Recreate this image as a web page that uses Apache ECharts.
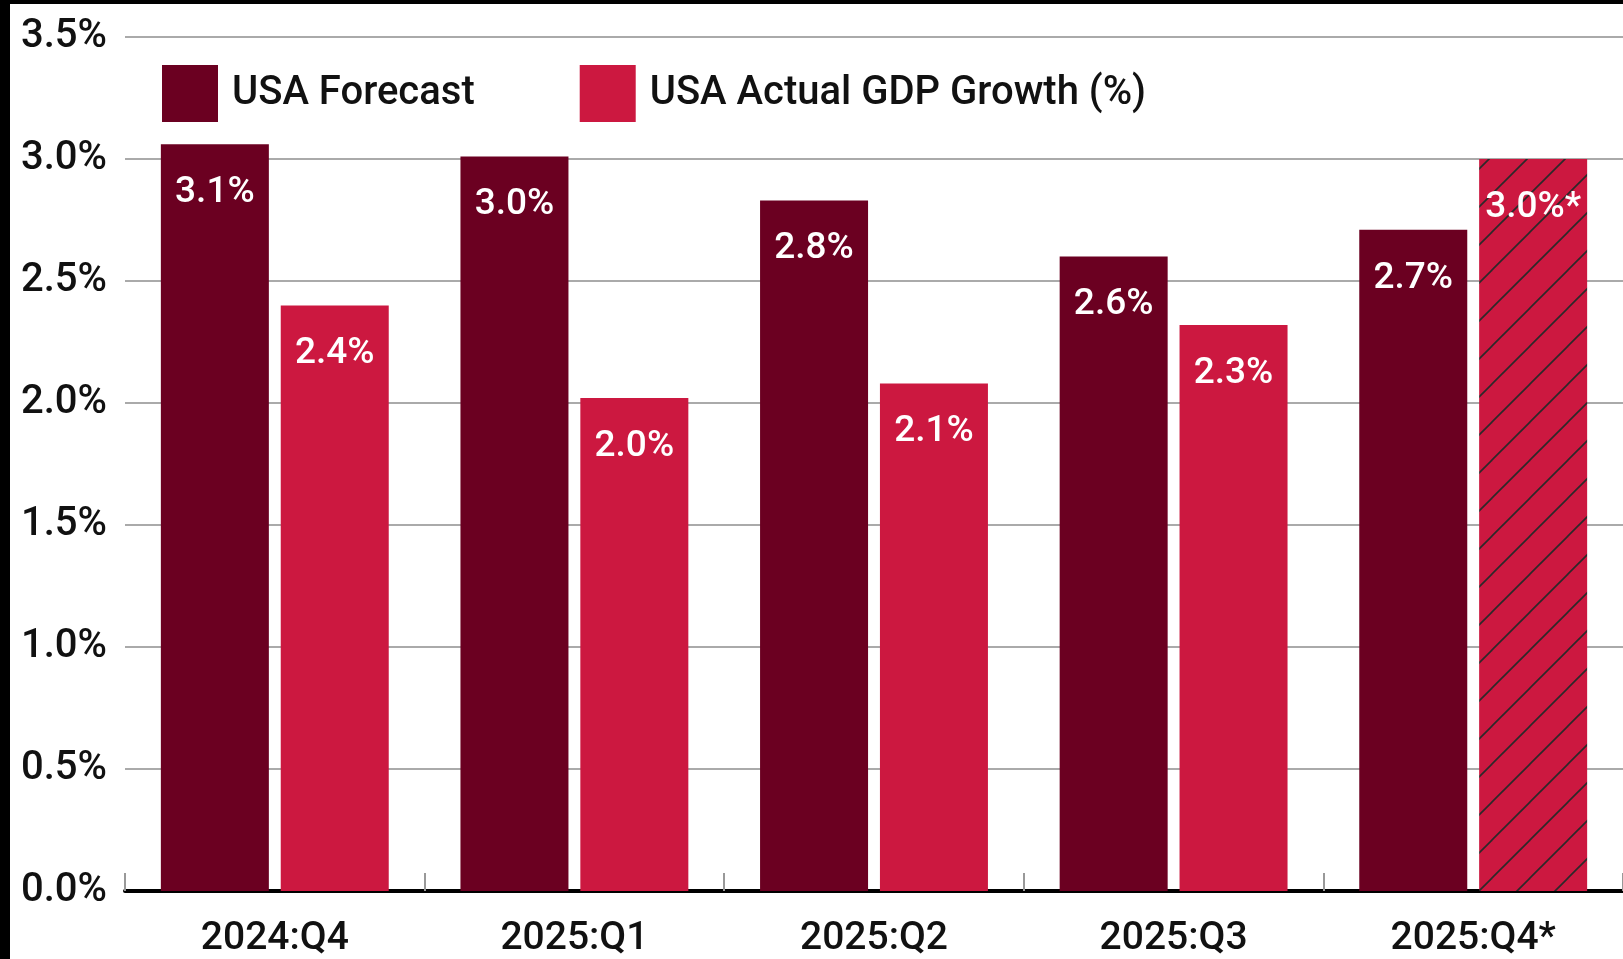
<!DOCTYPE html>
<html>
<head>
<meta charset="utf-8">
<script src="https://cdn.jsdelivr.net/npm/echarts@6/dist/echarts.min.js"></script>
<style>
  html, body { margin: 0; padding: 0; background: #000; width: 1623px; height: 959px; overflow: hidden; }
  #chart { position: absolute; left: 10px; top: 4px; width: 1613px; height: 955px; background: #fff; }
</style>
</head>
<body>
<div id="chart"></div>
<script>
// 数据
var quarters = ['2024:Q4', '2025:Q1', '2025:Q2', '2025:Q3', '2025:Q4*'];
var forecastValues = [3.06, 3.01, 2.83, 2.6, 2.71];
var actualValues = [2.4, 2.02, 2.08, 2.32, 3.0];
var actualNotes = ['', '', '', '', '*'];
var yTicks = [0, 0.5, 1.0, 1.5, 2.0, 2.5, 3.0, 3.5];

var FONT = "Roboto, 'DejaVu Sans Condensed', sans-serif";
var DARK = '#6b0021';
var RED = '#cc1840';

// 斜线填充 (2025:Q4 预估)
function hatch() {
    var c = document.createElement('canvas');
    c.width = 38; c.height = 38;
    var ctx = c.getContext('2d');
    ctx.fillStyle = RED;
    ctx.fillRect(0, 0, 38, 38);
    ctx.strokeStyle = '#2a2a2a';
    ctx.lineWidth = 1.6;
    [-38, 0, 38].forEach(function (k) {
        ctx.beginPath();
        ctx.moveTo(k - 5, 43);
        ctx.lineTo(k + 43, -5);
        ctx.stroke();
    });
    return { image: c, repeat: 'repeat' };
}

var actualData = actualValues.map(function (v, i) {
    if (actualNotes[i]) {
        return { value: v, itemStyle: { color: hatch() } };
    }
    return v;
});

var barLabel = {
    show: true,
    position: 'insideTop',
    distance: 30,
    color: '#fff',
    fontFamily: FONT,
    fontWeight: 500,
    fontSize: 37
};

var myChart = echarts.init(document.getElementById('chart'));
var option = {
    animation: false,
    backgroundColor: '#fff',
    grid: { left: 115, right: 0, top: 33, bottom: 68, containLabel: false, outerBoundsMode: 'none' },
    legend: {
        left: 147,
        top: 56,
        itemWidth: 56,
        itemHeight: 57,
        itemGap: 105,
        icon: 'rect',
        textStyle: { fontFamily: FONT, fontWeight: 500, fontSize: 40, color: '#111', padding: [0, 0, 0, 9] },
        data: ['USA Forecast', 'USA Actual GDP Growth (%)']
    },
    xAxis: {
        type: 'category',
        data: quarters,
        axisLine: { lineStyle: { color: '#000', width: 4 } },
        axisTick: { show: true, inside: true, length: 18, lineStyle: { color: '#999', width: 2 } },
        axisLabel: { margin: 29, fontFamily: FONT, fontWeight: 500, fontSize: 39, color: '#111' }
    },
    yAxis: {
        type: 'value',
        min: yTicks[0],
        max: yTicks[yTicks.length - 1],
        interval: 0.5,
        axisLine: { show: false },
        axisTick: { show: false },
        axisLabel: {
            margin: 18, fontFamily: FONT, fontWeight: 500, fontSize: 40, color: '#111',
            formatter: function (v) { return v.toFixed(1) + '%'; }
        },
        splitLine: { lineStyle: { color: '#aaa', width: 2 } }
    },
    series: [
        {
            name: 'USA Forecast',
            type: 'bar',
            barWidth: 108,
            barGap: '11%',
            itemStyle: { color: DARK },
            label: Object.assign({}, barLabel, {
                formatter: function (p) { return p.value.toFixed(1) + '%'; }
            }),
            data: forecastValues
        },
        {
            name: 'USA Actual GDP Growth (%)',
            type: 'bar',
            barWidth: 108,
            barGap: '11%',
            itemStyle: { color: RED },
            label: Object.assign({}, barLabel, {
                formatter: function (p) { return p.value.toFixed(1) + '%' + actualNotes[p.dataIndex]; }
            }),
            data: actualData
        }
    ]
};
myChart.setOption(option, true);
</script>
</body>
</html>
